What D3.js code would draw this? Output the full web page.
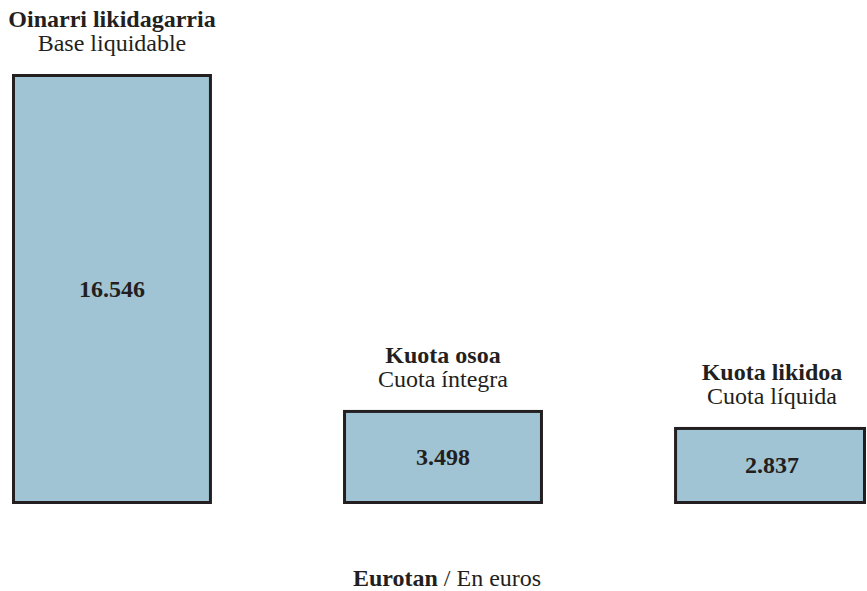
<!DOCTYPE html>
<html>
<head>
<meta charset="utf-8">
<script src="https://cdn.jsdelivr.net/npm/d3@7"></script>
<style>
  body { margin: 0; background: #fff; }
  text { font-family: "Liberation Serif", "Times New Roman", serif; fill: #231f20; }
</style>
</head>
<body>
<svg id="chart"></svg>
<script>
// data
const labelsEu = ["Oinarri likidagarria", "Kuota osoa", "Kuota likidoa"];
const labelsEs = ["Base liquidable", "Cuota íntegra", "Cuota líquida"];
const values = [16546, 3498, 2837];
const valueLabels = ["16.546", "3.498", "2.837"];

const width = 867, height = 591;
const base = 504;

const svg = d3.select("#chart")
  .attr("width", width)
  .attr("height", height);

const x = d3.scaleBand()
  .domain(labelsEu)
  .range([12, 874])
  .paddingInner(0.396)
  .paddingOuter(0);

const y = d3.scaleLinear()
  .domain([0, d3.max(values)])
  .range([500, 74]);

// last bar is cut at the right edge of the picture
const barW = i => Math.min(x.bandwidth(), 866 - x(labelsEu[i]));
const cx = i => Math.min(x(labelsEu[i]) + x.bandwidth() / 2, 772);

const bars = svg.selectAll("g.bar")
  .data(values)
  .enter().append("g")
  .attr("class", "bar");

bars.append("rect")
  .attr("x", (d, i) => x(labelsEu[i]) + 1.5)
  .attr("y", d => y(d) + 1.5)
  .attr("width", (d, i) => barW(i) - 3)
  .attr("height", d => base - y(d) - 3)
  .attr("fill", "#a0c4d4")
  .attr("stroke", "#231f20")
  .attr("stroke-width", 3);

bars.append("text")
  .attr("x", (d, i) => cx(i))
  .attr("y", d => (y(d) + base) / 2 + 8)
  .attr("text-anchor", "middle")
  .attr("font-weight", "bold")
  .attr("font-size", 24)
  .text((d, i) => valueLabels[i]);

bars.append("text")
  .attr("x", (d, i) => cx(i))
  .attr("y", d => y(d) - 47)
  .attr("text-anchor", "middle")
  .attr("font-weight", "bold")
  .attr("font-size", 24)
  .text((d, i) => labelsEu[i]);

bars.append("text")
  .attr("x", (d, i) => cx(i))
  .attr("y", d => y(d) - 23)
  .attr("text-anchor", "middle")
  .attr("font-size", 24)
  .text((d, i) => labelsEs[i]);

const foot = svg.append("text")
  .attr("x", 447)
  .attr("y", 586)
  .attr("text-anchor", "middle")
  .attr("font-size", 24);
foot.append("tspan").attr("font-weight", "bold").text("Eurotan");
foot.append("tspan").text(" / En euros");
</script>
</body>
</html>
